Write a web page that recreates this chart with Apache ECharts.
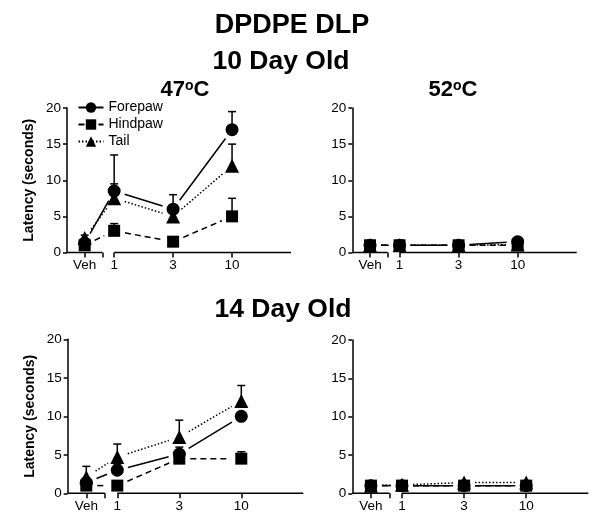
<!DOCTYPE html>
<html>
<head>
<meta charset="utf-8">
<style>
  html, body { margin: 0; padding: 0; background: #fff; }
  #main { width: 600px; height: 532px; }
</style>
<script src="https://cdn.jsdelivr.net/npm/echarts@6/dist/echarts.min.js"></script>
</head>
<body>
<div id="main"></div>
<script>
var chartDom = document.getElementById("main");
var myChart = echarts.init(chartDom);
var option;

// dose positions on the x axis (Veh sits before the axis break)
var doseLabels = ["Veh", "1", "3", "10"];
var dosePos = [-0.5, 0, 1, 2];
var groups = ["Forepaw", "Hindpaw", "Tail"];

// 10 day old, 47C
var d10h47Fore = [1.3, 8.5, 6, 17];
var d10h47ForeErr = [0, 5, 2, 2.5];
var d10h47Hind = [1.0, 3, 1.5, 5];
var d10h47HindErr = [0, 1, 0, 2.5];
var d10h47Tail = [2.0, 7.5, 5, 12];
var d10h47TailErr = [0.4, 2, 0, 3];

// 10 day old, 52C
var d10h52Fore = [1, 1, 1, 1.5];
var d10h52Hind = [1, 1, 1, 1];
var d10h52Tail = [1, 1, 1, 1.1];

// 14 day old, 47C
var d14h47Fore = [1.4, 3, 5.1, 10];
var d14h47ForeErr = [0, 0.8, 0.9, 0.4];
var d14h47Hind = [1, 1, 4.5, 4.5];
var d14h47HindErr = [0, 0, 0.3, 0.9];
var d14h47Tail = [2.1, 4.7, 7.3, 12];
var d14h47TailErr = [1.4, 1.7, 2.2, 2];

// 14 day old, 52C
var d14h52Fore = [1, 1, 1, 1];
var d14h52Hind = [1, 1, 1, 1];
var d14h52Tail = [1, 1.1, 1.4, 1.4];

var FONT = "Liberation Sans, Arial, sans-serif";
var GAP = 11; // GraphPad style gap between line and marker

var panels = [
  { grid: { left: 67, top: 108, width: 224, height: 144.5 }, yName: true,
    fore: d10h47Fore, hind: d10h47Hind, tail: d10h47Tail,
    foreErr: d10h47ForeErr, hindErr: d10h47HindErr, tailErr: d10h47TailErr },
  { grid: { left: 352.3, top: 108, width: 224.4, height: 144.5 }, yName: false,
    fore: d10h52Fore, hind: d10h52Hind, tail: d10h52Tail },
  { grid: { left: 67.7, top: 339.3, width: 235.6, height: 154 }, yName: true,
    fore: d14h47Fore, hind: d14h47Hind, tail: d14h47Tail,
    foreErr: d14h47ForeErr, hindErr: d14h47HindErr, tailErr: d14h47TailErr },
  { grid: { left: 352.3, top: 340, width: 236, height: 153.3 }, yName: false,
    fore: d14h52Fore, hind: d14h52Hind, tail: d14h52Tail }
];

var styles = {
  Forepaw: { symbol: "circle", size: 13, dash: null },
  Hindpaw: { symbol: "rect", size: 12, dash: [6, 4] },
  Tail: { symbol: "triangle", size: 14, dash: [1.5, 2] }
};

function points(vals) {
  return vals.map(function (v, i) { return [dosePos[i], v]; });
}
function segments(vals) {
  var out = [];
  for (var i = 0; i < vals.length - 1; i++) {
    out.push([dosePos[i], vals[i], dosePos[i + 1], vals[i + 1]]);
  }
  return out;
}
function errs(vals, e) {
  if (!e) return [];
  return vals.map(function (v, i) { return [dosePos[i], v, e[i]]; });
}

function segRender(dash, gap) {
  return function (params, api) {
    var a = api.coord([api.value(0), api.value(1)]);
    var b = api.coord([api.value(2), api.value(3)]);
    var dx = b[0] - a[0], dy = b[1] - a[1];
    var len = Math.sqrt(dx * dx + dy * dy);
    if (len <= 2 * gap + 1) return;
    var ux = dx / len, uy = dy / len;
    return {
      type: "line",
      shape: { x1: a[0] + ux * gap, y1: a[1] + uy * gap, x2: b[0] - ux * gap, y2: b[1] - uy * gap },
      style: { stroke: "#000", lineWidth: 1.5, lineDash: dash }
    };
  };
}

function errRender(params, api) {
  var e = api.value(2);
  if (!e) return;
  var p0 = api.coord([api.value(0), api.value(1)]);
  var p1 = api.coord([api.value(0), api.value(1) + e]);
  return {
    type: "group",
    children: [
      { type: "line", shape: { x1: p0[0], y1: p0[1], x2: p1[0], y2: p1[1] }, style: { stroke: "#000", lineWidth: 1.5 } },
      { type: "line", shape: { x1: p1[0] - 4, y1: p1[1], x2: p1[0] + 4, y2: p1[1] }, style: { stroke: "#000", lineWidth: 1.5 } }
    ]
  };
}

var grids = [], xAxes = [], yAxes = [], series = [];

panels.forEach(function (p, k) {
  grids.push(p.grid);
  xAxes.push({
    gridIndex: k,
    type: "value",
    min: -0.8,
    max: 3,
    axisLine: { show: false, onZero: false },
    splitLine: { show: false },
    axisTick: { show: true, length: 5, customValues: [-0.5, -0.2, 0, 1, 2], lineStyle: { color: "#000", width: 1.5 } },
    axisLabel: {
      customValues: dosePos,
      color: "#000",
      fontSize: 13.5,
      fontFamily: FONT,
      margin: 6,
      formatter: function (v) {
        var i = dosePos.indexOf(v);
        return i >= 0 ? doseLabels[i] : "";
      }
    }
  });
  yAxes.push({
    gridIndex: k,
    type: "value",
    min: 0,
    max: 20,
    interval: 5,
    name: p.yName ? "Latency (seconds)" : "",
    nameLocation: "middle",
    nameGap: 31,
    nameTextStyle: { color: "#000", fontSize: 14, fontWeight: "bold", fontFamily: FONT },
    axisLine: { show: true, onZero: false, lineStyle: { color: "#000", width: 1.5 } },
    axisTick: { show: true, length: 4, lineStyle: { color: "#000", width: 1.5 } },
    splitLine: { show: false },
    axisLabel: { color: "#000", fontSize: 13.5, fontFamily: FONT, margin: 6 }
  });

  // broken x axis line
  series.push({
    type: "custom",
    xAxisIndex: k,
    yAxisIndex: k,
    silent: true,
    renderItem: segRender(null, 0),
    encode: { x: [0, 2], y: [1, 3] },
    data: [[-0.8, 0, -0.2, 0], [0, 0, 3, 0]]
  });

  var sets = { Forepaw: [p.fore, p.foreErr], Hindpaw: [p.hind, p.hindErr], Tail: [p.tail, p.tailErr] };
  groups.forEach(function (g) {
    var st = styles[g];
    var vals = sets[g][0];
    series.push({
      type: "custom",
      xAxisIndex: k,
      yAxisIndex: k,
      silent: true,
      renderItem: segRender(st.dash, GAP),
      encode: { x: [0, 2], y: [1, 3] },
      data: segments(vals),
      z: 2
    });
    series.push({
      type: "custom",
      xAxisIndex: k,
      yAxisIndex: k,
      silent: true,
      renderItem: errRender,
      encode: { x: 0, y: 1 },
      data: errs(vals, sets[g][1]),
      z: 2
    });
    series.push({
      name: g,
      type: "line",
      xAxisIndex: k,
      yAxisIndex: k,
      symbol: st.symbol,
      symbolSize: st.size,
      showAllSymbol: true,
      itemStyle: { color: "#000" },
      lineStyle: { color: "#000", width: 1.5, type: st.dash ? st.dash : "solid", opacity: 0 },
      data: points(vals),
      z: 3,
      animation: false
    });
  });
});

var supRich = { s: { fontSize: 14, fontWeight: "bold", verticalAlign: "top", color: "#000", fontFamily: FONT } };

option = {
  animation: false,
  backgroundColor: "#fff",
  textStyle: { fontFamily: FONT },
  title: [
    { text: "DPDPE DLP", left: 287, textAlign: "center", top: 7,
      textStyle: { fontSize: 27, fontWeight: "bold", color: "#000", fontFamily: FONT } },
    { text: "10 Day Old", left: 276, textAlign: "center", top: 43,
      textStyle: { fontSize: 26.5, fontWeight: "bold", color: "#000", fontFamily: FONT } },
    { text: "47{s|o}C", left: 180, textAlign: "center", top: 74,
      textStyle: { fontSize: 22, fontWeight: "bold", color: "#000", fontFamily: FONT, rich: supRich } },
    { text: "52{s|o}C", left: 448, textAlign: "center", top: 74,
      textStyle: { fontSize: 22, fontWeight: "bold", color: "#000", fontFamily: FONT, rich: supRich } },
    { text: "14 Day Old", left: 278, textAlign: "center", top: 291,
      textStyle: { fontSize: 26.5, fontWeight: "bold", color: "#000", fontFamily: FONT } }
  ],
  legend: {
    data: groups,
    orient: "vertical",
    left: 72.5,
    top: 95.5,
    itemWidth: 25,
    itemHeight: 13,
    itemGap: 3,
    textStyle: { fontSize: 14, color: "#000", fontFamily: FONT },
    lineStyle: { opacity: 1 },
    selectedMode: false
  },
  grid: grids,
  xAxis: xAxes,
  yAxis: yAxes,
  series: series
};

option && myChart.setOption(option);
</script>
</body>
</html>
